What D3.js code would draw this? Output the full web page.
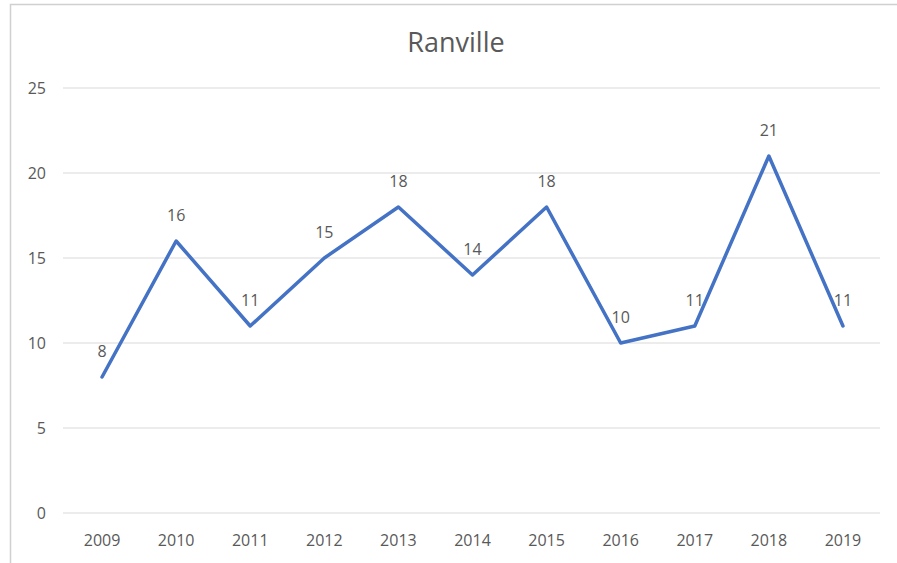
<!DOCTYPE html>
<html>
<head>
<meta charset="utf-8">
<script src="https://cdn.jsdelivr.net/npm/d3@7"></script>
<style>
  body { margin: 0; background: #fff; }
  text { font-family: "Open Sans", "Noto Sans", sans-serif; fill: #595959; }
</style>
</head>
<body>
<div class="chart"></div>
<script>
// data
var years = ["2009","2010","2011","2012","2013","2014","2015","2016","2017","2018","2019"];
var counts = [8, 16, 11, 15, 18, 14, 18, 10, 11, 21, 11];
var yTicks = [0, 5, 10, 15, 20, 25];

var W = 897, H = 563;
var margin = {top: 88, right: 17, bottom: 50, left: 65},
    width = W - margin.left - margin.right,
    height = H - margin.top - margin.bottom;

var root = d3.select(".chart")
  .append("svg")
  .attr("width", W)
  .attr("height", H);

// chart frame
root.append("rect")
  .attr("x", 10.5).attr("y", 4.5)
  .attr("width", W).attr("height", H)
  .attr("fill", "none")
  .attr("stroke", "#d0d0d0")
  .attr("stroke-width", 1.5);

root.append("text")
  .attr("x", 456).attr("y", 52)
  .attr("text-anchor", "middle")
  .style("font-size", "27px")
  .text("Ranville");

var svg = root.append("g")
  .attr("transform", "translate(" + margin.left + "," + margin.top + ")");

var x = d3.scaleBand()
  .domain(years)
  .range([0, width]);

var y = d3.scaleLinear()
  .domain([0, 25])
  .range([height, 0]);

// gridlines
svg.append("g")
  .selectAll("line")
  .data(yTicks)
  .join("line")
  .attr("x1", -2).attr("x2", width)
  .attr("y1", function(d){ return y(d); })
  .attr("y2", function(d){ return y(d); })
  .attr("stroke", "#d9d9d9")
  .attr("stroke-width", 1);

// y axis labels
var yAxis = svg.append("g")
  .attr("transform", "translate(-19,0)")
  .call(d3.axisLeft(y).tickValues(yTicks).tickSize(0).tickPadding(0));
yAxis.select(".domain").remove();
yAxis.selectAll("text").style("font-size", "16px").attr("font-family", null);

// x axis labels
var xAxis = svg.append("g")
  .attr("transform", "translate(0," + height + ")")
  .call(d3.axisBottom(x).tickSize(0).tickPadding(22));
xAxis.select(".domain").remove();
xAxis.selectAll("text").style("font-size", "16px").attr("font-family", null);

var line = d3.line()
  .x(function(d, i){ return x(years[i]) + x.bandwidth() / 2; })
  .y(function(d){ return y(d); });

svg.append("path")
  .attr("d", line(counts))
  .attr("fill", "none")
  .attr("stroke", "#4472c4")
  .attr("stroke-width", 3.5)
  .attr("stroke-linejoin", "round")
  .attr("stroke-linecap", "round");

// data labels
svg.append("g")
  .selectAll("text")
  .data(counts)
  .join("text")
  .attr("x", function(d, i){ return x(years[i]) + x.bandwidth() / 2; })
  .attr("y", function(d){ return y(d) - 20; })
  .attr("text-anchor", "middle")
  .style("font-size", "16px")
  .text(function(d){ return d; });
</script>
</body>
</html>
